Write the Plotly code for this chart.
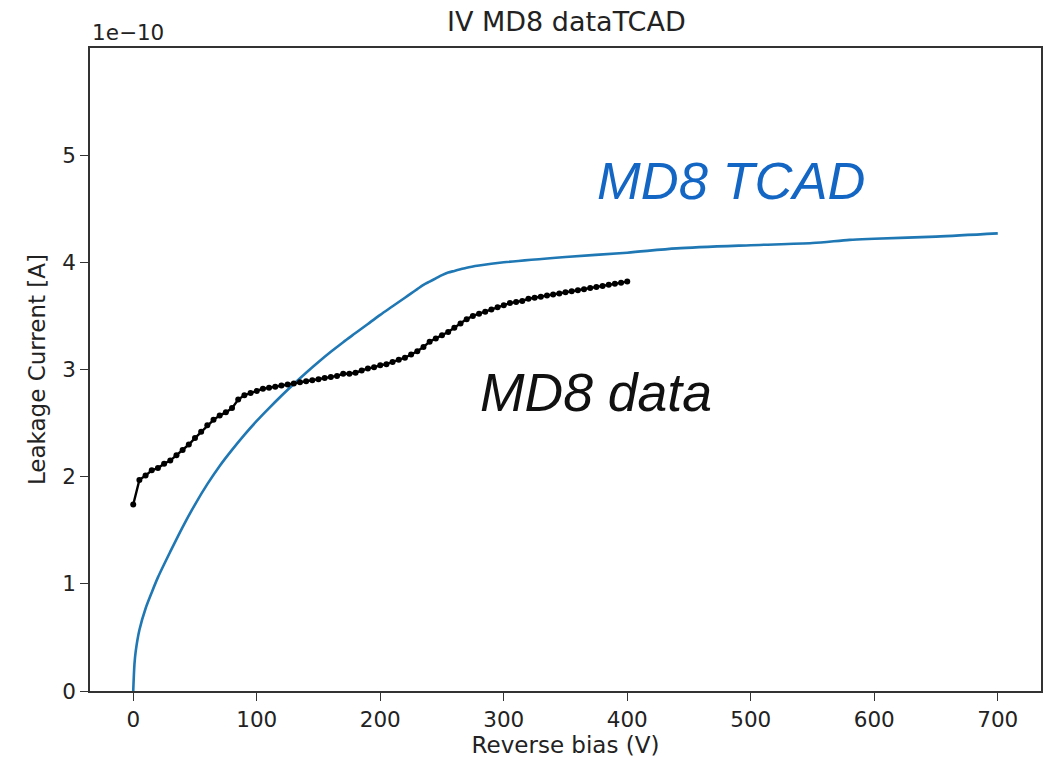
import plotly.graph_objects as go

# Simulated (TCAD) IV curve: reverse bias in V, current in units of 1e-10 A
tcad_bias = [0, 1, 2, 5, 10, 15, 20, 30, 40, 50, 60, 70, 80, 90, 100, 110, 120,
             130, 140, 150, 160, 170, 180, 190, 200, 210, 220, 225, 230, 235,
             240, 245, 250, 255, 260, 265, 270, 280, 300, 350, 400, 440, 500,
             550, 580, 600, 650, 700]
tcad_current = [0.0, 0.25, 0.37, 0.57, 0.77, 0.92, 1.06, 1.30, 1.53, 1.74, 1.93,
                2.10, 2.25, 2.39, 2.52, 2.64, 2.755, 2.865, 2.97, 3.07, 3.165,
                3.255, 3.34, 3.425, 3.51, 3.59, 3.67, 3.71, 3.75, 3.79, 3.82,
                3.85, 3.88, 3.905, 3.92, 3.935, 3.95, 3.97, 4.00, 4.05, 4.09,
                4.13, 4.16, 4.18, 4.21, 4.22, 4.24, 4.27]

# Measured IV scan, 5 V steps from 0 to 400 V, current in units of 1e-10 A
data_bias = list(range(0, 405, 5))
data_current = [1.74, 1.97, 2.01, 2.06, 2.08, 2.12, 2.15, 2.20, 2.25, 2.30,
                2.36, 2.42, 2.48, 2.53, 2.57, 2.60, 2.64, 2.72, 2.76, 2.78,
                2.80, 2.82, 2.83, 2.84, 2.85, 2.86, 2.87, 2.88, 2.89, 2.90,
                2.91, 2.92, 2.93, 2.94, 2.96, 2.96, 2.97, 2.99, 3.01, 3.02,
                3.04, 3.05, 3.07, 3.09, 3.11, 3.14, 3.17, 3.21, 3.26, 3.29,
                3.32, 3.35, 3.39, 3.43, 3.47, 3.50, 3.52, 3.54, 3.56, 3.58,
                3.60, 3.62, 3.63, 3.64, 3.66, 3.67, 3.68, 3.69, 3.70, 3.71,
                3.72, 3.73, 3.74, 3.75, 3.76, 3.77, 3.78, 3.79, 3.80, 3.81,
                3.82]

x_ticks = [0, 100, 200, 300, 400, 500, 600, 700]
y_ticks = [0, 1, 2, 3, 4, 5]
y_tick_labels = ["0", "1", "2", "3", "4", "5"]

base_font = "DejaVu Sans"
axis_color = "#333333"
text_color = "#222222"

fig = go.Figure()

fig.add_trace(go.Scatter(
    x=tcad_bias, y=tcad_current, mode="lines",
    line=dict(color="#1f77b4", width=2.6, shape="spline", smoothing=0.8),
    showlegend=False,
))

fig.add_trace(go.Scatter(
    x=data_bias, y=data_current, mode="lines+markers",
    line=dict(color="black", width=2.4),
    marker=dict(color="black", size=6),
    showlegend=False,
))

axis_common = dict(
    showgrid=False, zeroline=False,
    showline=True, mirror=True, linecolor=axis_color, linewidth=1.6,
    ticks="outside", ticklen=8, tickwidth=1.4, tickcolor=axis_color,
    tickfont=dict(family=base_font, size=21.5, color=text_color),
)

fig.update_xaxes(
    range=[-35, 735], tickvals=x_ticks,
    title=dict(text="Reverse bias (V)", standoff=6,
               font=dict(family=base_font, size=23, color=text_color)),
    **axis_common,
)
fig.update_yaxes(
    range=[0, 6], tickvals=y_ticks, ticktext=y_tick_labels,
    title=dict(text="Leakage Current [A]", standoff=10,
               font=dict(family=base_font, size=23, color=text_color)),
    **axis_common,
)

fig.update_layout(
    width=1043, height=762,
    margin=dict(l=90, r=0, t=48, b=71),
    paper_bgcolor="white", plot_bgcolor="white",
    title=dict(text="IV MD8 dataTCAD", x=0.543, xanchor="center",
               y=1 - 22 / 762, yref="container", yanchor="middle",
               font=dict(family=base_font, size=27, color=text_color)),
    annotations=[
        dict(text="1e\u221210", xref="paper", yref="paper", x=0, y=1,
             xanchor="left", yanchor="bottom", showarrow=False, yshift=1,
             font=dict(family=base_font, size=21.5, color=text_color)),
        dict(text="<i>MD8 TCAD</i>", xref="x", yref="y", x=484, y=4.76,
             xanchor="center", yanchor="middle", showarrow=False,
             font=dict(family="Liberation Sans", size=52.5, color="#1466c4")),
        dict(text="<i>MD8 data</i>", xref="x", yref="y", x=375, y=2.785,
             xanchor="center", yanchor="middle", showarrow=False,
             font=dict(family="Liberation Sans", size=53.5, color="#111111")),
    ],
)

fig.write_html("out.html")
